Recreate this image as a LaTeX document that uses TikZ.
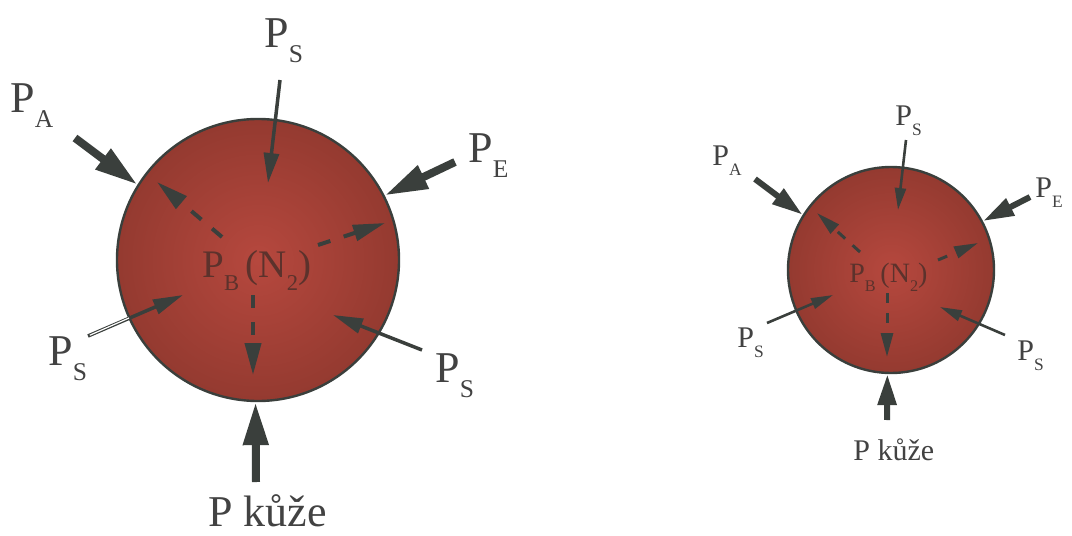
\documentclass[tikz,border=0pt]{standalone}
\usepackage{fontspec}
\setmainfont{Liberation Serif}
\usetikzlibrary{arrows.meta}
\definecolor{ballin}{RGB}{182,72,62}
\definecolor{ballout}{RGB}{148,58,48}
\definecolor{arrgray}{RGB}{58,63,60}
\definecolor{txtgray}{RGB}{66,66,66}
\definecolor{pbtext}{RGB}{92,50,44}
\newcommand{\lowsub}[1]{\raisebox{-0.35em}{\scalebox{0.58}{#1}}}

\begin{document}
\begin{tikzpicture}[x=0.5pt,y=-0.5pt,
  ball/.style={circle,draw=arrgray,line width=1.2pt,inner color=ballin,outer color=ballout,inner sep=0pt},
  biglab/.style={text=txtgray,font=\fontsize{22}{24}\selectfont,anchor=base west,inner sep=0pt},
  smalllab/.style={biglab,font=\fontsize{15}{18}\selectfont},
  pblab/.style={biglab,text=pbtext,font=\fontsize{19.5}{22}\selectfont},
  thickarr/.style={arrgray,line width=4pt,-{Triangle[length=21.5pt,width=12pt]}},
  thinarr/.style={arrgray,line width=1.75pt,-{Triangle[length=15pt,width=7.5pt]}},
  dasharr/.style={arrgray,line width=2pt,dash pattern=on 6.5pt off 7pt,-{Triangle[length=16pt,width=8pt]}},
  sthickarr/.style={arrgray,line width=3pt,-{Triangle[length=15.5pt,width=9pt]}},
  sthinarr/.style={arrgray,line width=1.3pt,-{Triangle[length=11pt,width=5.5pt]}},
  sdasharr/.style={arrgray,line width=1.5pt,dash pattern=on 5pt off 5pt,-{Triangle[length=12pt,width=6pt]}}]
\useasboundingbox (0,0) rectangle (1072,536);

% large drop
\node[ball,minimum size=141pt] (bigball) at (258,260) {};
\node[pblab] (bigpb) at (202,277) {P\lowsub{B}\,(N\lowsub{2})};

\node[biglab] (bigst) at (264,47) {P\lowsub{S}};
\node[biglab] (bigpa) at (10,112) {P\lowsub{A}};
\node[biglab] (bigpe) at (468,162) {P\lowsub{E}};
\node[biglab] (bigsl) at (48,365) {P\lowsub{S}};
\node[biglab] (bigsr) at (435,382) {P\lowsub{S}};
\node[biglab] (bigsk) at (208,526) {P kůže};

\coordinate (stA) at (280,80);   \coordinate (stB) at (268,183);
\coordinate (paA) at (75,138);
\coordinate (peA) at (455,162);
\coordinate (slA) at (88,336);   \coordinate (slB) at (183,295);
\coordinate (slE) at (129,318);
\coordinate (srA) at (422,350);  \coordinate (srB) at (333,315);
\coordinate (skA) at (256,482);
\coordinate (nwA) at (222,237);  \coordinate (nwB) at (157,182);
\coordinate (neA) at (318,245);  \coordinate (neB) at (385,223);
\coordinate (dnA) at (253,295);  \coordinate (dnB) at (253,375);

\draw[thinarr] (stA) -- (stB);
\draw[thickarr] (paA) -- (bigball.148);
\draw[thickarr] (peA) -- (bigball.27);
\draw[thinarr] (slA) -- (slB);
\draw[white,line width=0.6pt,shorten <=1pt] (slA) -- (slE);
\draw[thinarr] (srA) -- (srB);
\draw[thickarr] (skA) -- (bigball.-91);
\draw[dasharr] (nwA) -- (nwB);
\draw[dasharr] (neA) -- (neB);
\draw[dasharr] (dnA) -- (dnB);

% small drop
\node[ball,minimum size=103pt] (smallball) at (891,270) {};
\node[pblab,font=\fontsize{14}{16}\selectfont] (smallpb) at (849,282) {P\lowsub{B}\,(N\lowsub{2})};

\node[smalllab] (smallst) at (895,125) {P\lowsub{S}};
\node[smalllab] (smallpa) at (712,165) {P\lowsub{A}};
\node[smalllab] (smallpe) at (1035,197) {P\lowsub{E}};
\node[smalllab] (smallsl) at (737,347) {P\lowsub{S}};
\node[smalllab] (smallsr) at (1017,360) {P\lowsub{S}};
\node[smalllab] (smallsk) at (853,460) {P kůže};

\coordinate (sstA) at (906,140);  \coordinate (sstB) at (898,210);
\coordinate (spaA) at (755,179);
\coordinate (speA) at (1030,197);
\coordinate (sslA) at (767,323);  \coordinate (sslB) at (833,295);
\coordinate (ssrA) at (1005,335); \coordinate (ssrB) at (940,307);
\coordinate (sskA) at (887,420);
\coordinate (snwA) at (860,252);  \coordinate (snwB) at (817,213);
\coordinate (sneA) at (938,260);  \coordinate (sneB) at (978,243);
\coordinate (sdnA) at (887,293);  \coordinate (sdnB) at (887,357);

\draw[sthinarr] (sstA) -- (sstB);
\draw[sthickarr] (spaA) -- (smallball.148);
\draw[sthickarr] (speA) -- (smallball.28);
\draw[sthinarr] (sslA) -- (sslB);
\draw[sthinarr] (ssrA) -- (ssrB);
\draw[sthickarr] (sskA) -- (smallball.-92);
\draw[sdasharr] (snwA) -- (snwB);
\draw[sdasharr] (sneA) -- (sneB);
\draw[sdasharr] (sdnA) -- (sdnB);
\end{tikzpicture}
\end{document}
